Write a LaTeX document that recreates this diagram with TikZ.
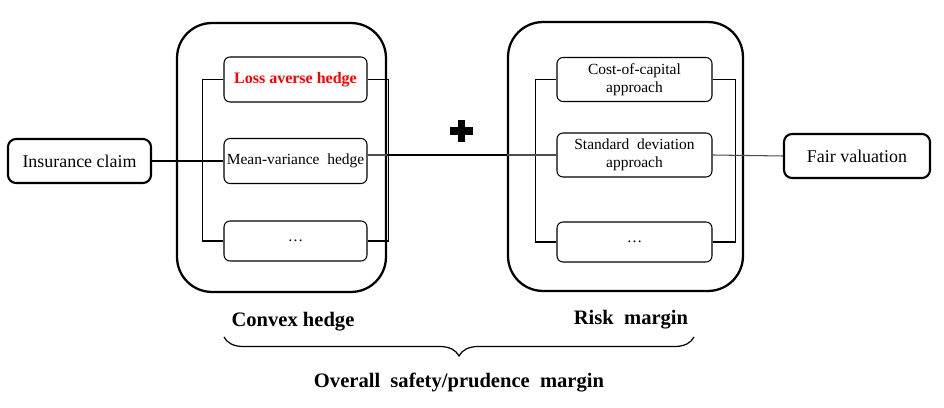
\documentclass[tikz,border=0pt]{standalone}
\usepackage{fontspec}
\setmainfont{Liberation Serif}
\usepackage{tikz}
\usetikzlibrary{positioning,calc,decorations.pathreplacing}
\definecolor{HedgeRed}{HTML}{FF0000}

\begin{document}
\begin{tikzpicture}[x=0.02cm, y=-0.02cm,
  outerbox/.style={draw, line width=1.2pt, rounded corners=0.16cm, minimum height=0.88cm, font=\fontsize{10.2}{12}\selectfont, inner sep=0pt},
  groupbox/.style={draw, line width=1.3pt, rounded corners=0.7cm, inner sep=0pt},
  methodbox/.style={draw, line width=0.6pt, rounded corners=0.12cm, inner sep=0pt, align=center, font=\fontsize{8.8}{10.5}\selectfont},
  grouplabel/.style={font=\fontsize{11.7}{14}\selectfont\bfseries},
  wire/.style={line width=0.6pt}]
  \useasboundingbox (0,0) rectangle (944,408);

  %% Input and output
  \node[outerbox, minimum width=2.86cm] (claim) at (79.5,161) {Insurance claim};
  \node[outerbox, minimum width=2.92cm] (fair) at (857,156) {Fair valuation};

  %% Group frames
  \node[groupbox, minimum width=4.18cm, minimum height=5.38cm] (hedgegrp) at (281.5,157.5) {};
  \node[groupbox, minimum width=4.70cm, minimum height=5.38cm] (margingrp) at (625.5,156.5) {};

  %% Convex hedges
  \node[methodbox, minimum width=2.86cm, minimum height=0.9cm, text=HedgeRed, font=\fontsize{9.1}{11}\selectfont\bfseries] (loss) at (295.5,79.5) {Loss averse hedge};
  \node[methodbox, minimum width=2.86cm, minimum height=0.9cm] (mv) at (295.5,161) {Mean-variance\ \ hedge};
  \node[methodbox, minimum width=2.86cm, minimum height=0.8cm] (hdots) at (295.5,241) {\dots};

  %% Risk margins
  \node[methodbox, minimum width=3.1cm, minimum height=0.88cm] (coc) at (634.5,79.5) {Cost-of-capital\\approach};
  \node[methodbox, minimum width=3.1cm, minimum height=0.88cm] (sd) at (634.5,155) {Standard\ \ deviation\\approach};
  \node[methodbox, minimum width=3.1cm, minimum height=0.8cm] (mdots) at (634.5,242) {\dots};

  %% Brackets
  \draw[wire] (loss.west) -- ++(-21,0) |- (hdots.west);
  \draw[wire] (loss.east) -- ++(21,0) |- (hdots.east);
  \draw[wire] (coc.west) -- ++(-21,0) |- (mdots.west);
  \draw[wire] (coc.east) -- ++(23,0) |- (mdots.east);

  %% Links
  \draw[wire] (claim.east) -- (mv.west);
  \draw[wire, black!70] (mv.east |- sd.west) -- (sd.west);
  \draw[line width=1.3pt] (hedgegrp.east |- sd.west) -- (margingrp.west |- sd.west);
  \draw[wire, black!70] (sd.east) -- (fair.west);

  %% Plus
  \draw[line width=4.3pt] (450,131) -- (473,131);
  \draw[line width=4.3pt] (461.5,120) -- (461.5,142);

  %% Labels and brace
  \node[grouplabel] (hedgelbl) at (293,322) {Convex hedge};
  \node[grouplabel] (marginlbl) at (631,320) {Risk\ \ margin};
  \draw[line width=0.7pt, decorate, decoration={brace, mirror, amplitude=0.38cm, aspect=0.5}]
    (224,337) -- (694,337);
  \node[grouplabel] (overall) at (459,383) {Overall\ \ safety/prudence\ \ margin};
\end{tikzpicture}
\end{document}
